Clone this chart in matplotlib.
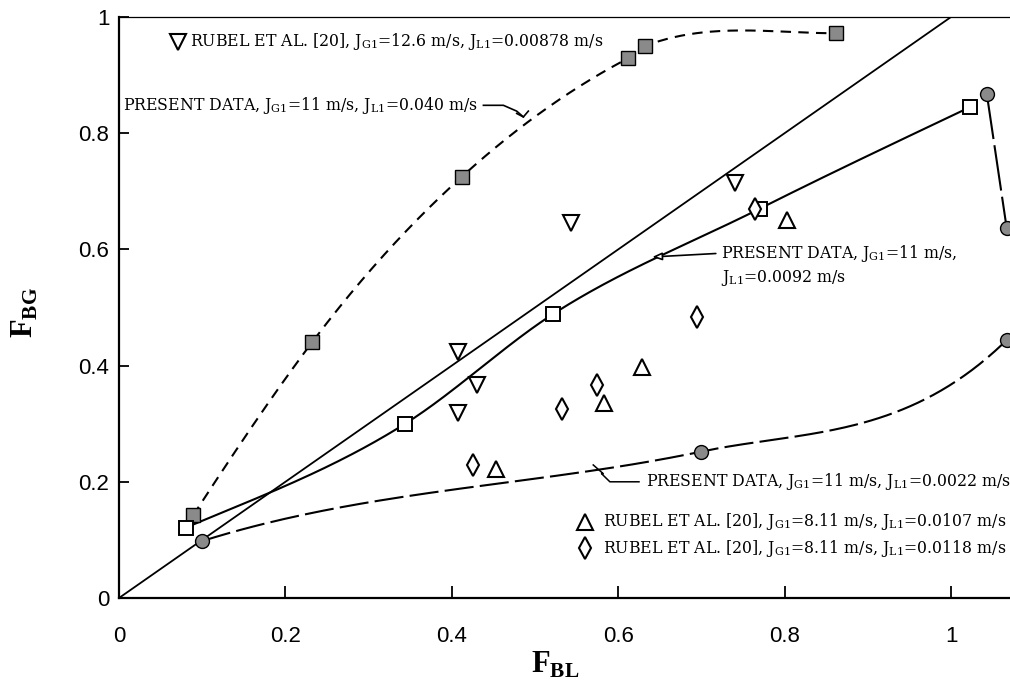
import numpy as np
import matplotlib
matplotlib.use("Agg")
import matplotlib.pyplot as plt

plt.rcParams["font.family"] = ["DejaVu Serif"]
plt.rcParams["mathtext.fontset"] = "custom"
plt.rcParams["mathtext.rm"] = "DejaVu Serif"
plt.rcParams["mathtext.bf"] = "Liberation Serif:bold"
plt.rcParams["mathtext.it"] = "DejaVu Serif:italic"

# ---- data -------------------------------------------------------------
# present data, J_G1 = 11 m/s, J_L1 = 0.040 m/s (filled squares)
fbl_040 = [0.089, 0.232, 0.412, 0.612, 0.632, 0.862]
fbg_040 = [0.142, 0.440, 0.725, 0.929, 0.950, 0.972]

# present data, J_G1 = 11 m/s, J_L1 = 0.0092 m/s (open squares)
fbl_0092 = [0.080, 0.344, 0.522, 0.770, 1.023]
fbg_0092 = [0.121, 0.300, 0.489, 0.670, 0.845]

# present data, J_G1 = 11 m/s, J_L1 = 0.0022 m/s (filled circles)
fbl_0022 = [0.100, 0.700, 1.067]
fbg_0022 = [0.098, 0.252, 0.444]

# further present-data circles at the right edge
fbl_circ = [1.043, 1.067]
fbg_circ = [0.868, 0.636]

# Rubel et al. [20], J_G1 = 12.6 m/s, J_L1 = 0.00878 m/s
fbl_r1 = [0.407, 0.430, 0.407, 0.543, 0.740]
fbg_r1 = [0.424, 0.367, 0.318, 0.645, 0.715]

# Rubel et al. [20], J_G1 = 8.11 m/s, J_L1 = 0.0107 m/s
fbl_r2 = [0.453, 0.583, 0.629, 0.803]
fbg_r2 = [0.222, 0.335, 0.398, 0.650]

# Rubel et al. [20], J_G1 = 8.11 m/s, J_L1 = 0.0118 m/s
fbl_r3 = [0.425, 0.532, 0.574, 0.695, 0.764]
fbg_r3 = [0.229, 0.325, 0.367, 0.484, 0.670]

x_ticks = [0, 0.2, 0.4, 0.6, 0.8, 1]
y_ticks = [0, 0.2, 0.4, 0.6, 0.8, 1]
tick_labels = ["0", "0.2", "0.4", "0.6", "0.8", "1"]


def hermite(xs, ys, slopes, n=80):
    """Piecewise cubic Hermite curve through the points with given slopes."""
    px, py = [], []
    for i in range(len(xs) - 1):
        h = xs[i + 1] - xs[i]
        t = np.linspace(0, 1, n)
        h00 = 2 * t**3 - 3 * t**2 + 1
        h10 = t**3 - 2 * t**2 + t
        h01 = -2 * t**3 + 3 * t**2
        h11 = t**3 - t**2
        px.append(xs[i] + h * t)
        py.append(h00 * ys[i] + h10 * h * slopes[i] + h01 * ys[i + 1] + h11 * h * slopes[i + 1])
    return np.concatenate(px), np.concatenate(py)


fig = plt.figure(figsize=(10.1, 6.92), dpi=100)
ax = fig.add_axes([119 / 1010, 94 / 692, 891 / 1010, 581 / 692])
ax.set_xlim(0, 891 / 832)
ax.set_ylim(0, 1.0)

lw = 1.5
grey = "#8a8a8a"

# diagonal F_BG = F_BL
ax.plot([0, 1], [0, 1], color="black", lw=1.3, zorder=2)

# fitted curves
cx, cy = hermite(fbl_040, fbg_040, [2.2, 1.9, 1.3, 0.75, 0.55, 0.0])
ax.plot(cx, cy, color="black", lw=lw, dashes=(5, 3.5), zorder=2)

cx, cy = hermite(fbl_0092, fbg_0092, [0.6, 0.9, 0.92, 0.72, 0.68])
ax.plot(cx, cy, color="black", lw=lw, zorder=2)

cx, cy = hermite(fbl_0022, fbg_0022, [0.45, 0.3, 1.4])
ax.plot(cx, cy, color="black", lw=lw, dashes=(14, 3), zorder=2)

ax.plot(fbl_circ, fbg_circ, color="black", lw=lw, dashes=(22, 3), zorder=2)

# markers
ax.plot(fbl_040, fbg_040, ls="none", marker="s", ms=9.5, mfc=grey, mec="black", mew=1.0, zorder=4)
ax.plot(fbl_0092, fbg_0092, ls="none", marker="s", ms=10.5, mfc="white", mec="black", mew=1.4, zorder=4)
ax.plot(fbl_0022, fbg_0022, ls="none", marker="o", ms=10, mfc=grey, mec="black", mew=1.0, zorder=4)
ax.plot(fbl_circ, fbg_circ, ls="none", marker="o", ms=10, mfc=grey, mec="black", mew=1.0, zorder=4)
ax.plot(fbl_r1, fbg_r1, ls="none", marker="v", ms=11, mfc="white", mec="black", mew=1.5, zorder=4)
ax.plot(fbl_r2, fbg_r2, ls="none", marker="^", ms=11, mfc="white", mec="black", mew=1.5, zorder=4)
ax.plot(fbl_r3, fbg_r3, ls="none", marker="d", ms=11, mfc="white", mec="black", mew=1.5, zorder=4)

# ---- annotations ------------------------------------------------------
fs = 11.3
J_G = r"J$_{\rm G1}$"
J_L = r"J$_{\rm L1}$"

ax.plot([0.071], [0.957], ls="none", marker="v", ms=11, mfc="white", mec="black", mew=1.5, clip_on=False)
ax.text(0.085, 0.957, f"RUBEL ET AL. [20], {J_G}=12.6 m/s, {J_L}=0.00878 m/s",
        fontsize=fs, va="center", ha="left")

ax.text(0.005, 0.847, f"PRESENT DATA, {J_G}=11 m/s, {J_L}=0.040 m/s",
        fontsize=fs, va="center", ha="left")
ax.plot([0.438, 0.462, 0.478, 0.486], [0.848, 0.848, 0.838, 0.828], color="black", lw=1.2)
ax.plot([0.478, 0.486, 0.492], [0.834, 0.828, 0.838], color="black", lw=1.2)

ax.annotate(f"PRESENT DATA, {J_G}=11 m/s,\n{J_L}=0.0092 m/s",
            xy=(0.641, 0.587), xytext=(0.724, 0.572), fontsize=fs,
            va="center", ha="left", linespacing=1.25,
            arrowprops=dict(arrowstyle="-|>,head_length=0.5,head_width=0.2", fc="white",
                            ec="black", lw=1.2, shrinkA=2, shrinkB=0,
                            relpos=(0.0, 0.78)))

ax.text(0.633, 0.200, f"PRESENT DATA, {J_G}=11 m/s, {J_L}=0.0022 m/s",
        fontsize=fs, va="center", ha="left")
ax.plot([0.570, 0.582, 0.580, 0.590, 0.625], [0.229, 0.214, 0.214, 0.200, 0.200],
        color="black", lw=1.1)

ax.plot([0.560], [0.131], ls="none", marker="^", ms=11, mfc="white", mec="black", mew=1.5)
ax.text(0.582, 0.131, f"RUBEL ET AL. [20], {J_G}=8.11 m/s, {J_L}=0.0107 m/s",
        fontsize=fs, va="center", ha="left")
ax.plot([0.560], [0.086], ls="none", marker="d", ms=11, mfc="white", mec="black", mew=1.5)
ax.text(0.582, 0.086, f"RUBEL ET AL. [20], {J_G}=8.11 m/s, {J_L}=0.0118 m/s",
        fontsize=fs, va="center", ha="left")

# ---- axes styling -----------------------------------------------------
for side in ["left", "bottom"]:
    ax.spines[side].set_linewidth(1.6)
ax.spines["top"].set_linewidth(0.9)
ax.spines["right"].set_visible(False)

ax.set_xticks(x_ticks)
ax.set_xticklabels(tick_labels, family="Liberation Sans", fontsize=16)
ax.set_yticks(y_ticks)
ax.set_yticklabels(tick_labels, family="Liberation Sans", fontsize=16)
ax.tick_params(axis="x", direction="in", length=9, width=1.3, pad=20)
ax.tick_params(axis="y", direction="in", length=7, width=1.3, pad=7)

fig.text(555 / 1010, 1 - 665 / 692, r"$\mathbf{F}_{\mathbf{BL}}$", fontsize=22,
         ha="center", va="center")
fig.text(24 / 1010, 1 - 312 / 692, r"$\mathbf{F}_{\mathbf{BG}}$", fontsize=22,
         ha="center", va="center", rotation=90)

fig.savefig("out.png", dpi=100)
